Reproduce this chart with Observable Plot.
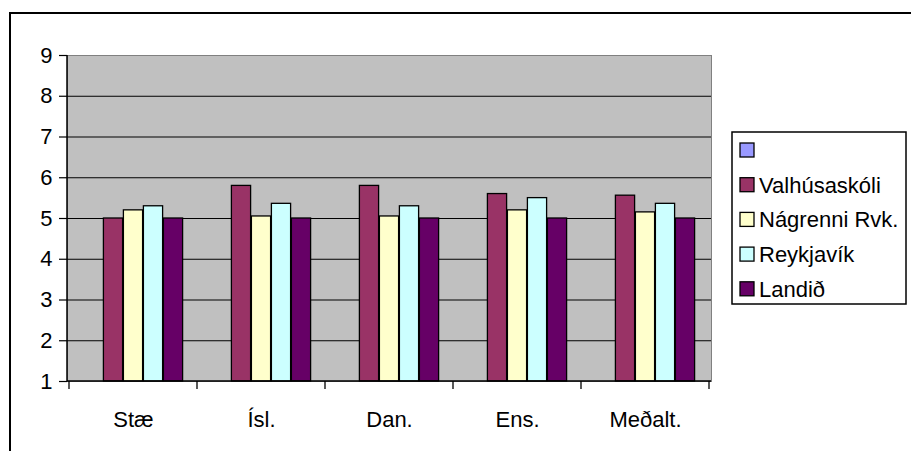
<!DOCTYPE html>
<html>
<head>
<meta charset="utf-8">
<script src="https://cdn.jsdelivr.net/npm/d3@7"></script>
<script src="https://cdn.jsdelivr.net/npm/@observablehq/plot@0.6"></script>
<style>
  html, body { margin: 0; padding: 0; background: #fff; }
  svg { display: block; }
</style>
</head>
<body>
<div id="chart"></div>
<script>
const categories = ["Stæ", "Ísl.", "Dan.", "Ens.", "Meðalt."];
const seriesNames = ["", "Valhúsaskóli", "Nágrenni Rvk.", "Reykjavík", "Landið"];
const seriesColors = ["#9999FF", "#993366", "#FFFFCC", "#CCFFFF", "#660066"];
const emptySeries = [null, null, null, null, null];
const valhusaskoli = [5.0, 5.8, 5.8, 5.6, 5.56];
const nagrenni = [5.2, 5.05, 5.05, 5.2, 5.15];
const reykjavik = [5.3, 5.36, 5.3, 5.5, 5.36];
const landid = [5.0, 5.0, 5.0, 5.0, 5.0];
const yTicks = [1, 2, 3, 4, 5, 6, 7, 8, 9];

const seriesValues = [emptySeries, valhusaskoli, nagrenni, reykjavik, landid];

const W = 911, H = 451;
const mL = 67, mR = 200, mT = 55, mB = 70;
const band = (W - mL - mR) / categories.length;
const slot = 20;
const groupOffset = (band - slot * seriesNames.length) / 2;
const FONT = "'Liberation Sans', Arial, sans-serif";

const barMarks = seriesNames.map((name, i) => {
  const rows = categories
    .map((c, j) => ({cat: c, value: seriesValues[i][j]}))
    .filter(d => d.value != null);
  return Plot.barY(rows, {
    x: "cat",
    y1: 1,
    y2: "value",
    fill: seriesColors[i],
    stroke: "#000",
    strokeWidth: 1.3,
    insetLeft: groupOffset + slot * i,
    insetRight: band - groupOffset - slot * (i + 1)
  });
});

const plot = Plot.plot({
  width: W,
  height: H,
  marginLeft: mL,
  marginRight: mR,
  marginTop: mT,
  marginBottom: mB,
  style: {fontFamily: FONT, background: "#fff", color: "#000"},
  x: {domain: categories, padding: 0, axis: null},
  y: {domain: [1, 9], axis: null},
  marks: [
    Plot.frame({fill: "#C0C0C0", stroke: "#808080"}),
    Plot.ruleY(yTicks.slice(1, -1), {stroke: "#000", strokeWidth: 1.2}),
    ...barMarks,
    Plot.axisY({ticks: yTicks, tickSize: 8, tickPadding: 7, fontSize: 22, label: null, tickFormat: d => String(d), stroke: "#000", strokeWidth: 1.2}),
    Plot.axisX({tickSize: 0, tickPadding: 30, fontSize: 22, label: null})
  ]
});

document.getElementById("chart").appendChild(plot);

const svg = d3.select(plot);
const xs = plot.scale("x");
const ys = plot.scale("y");
const x0 = mL, x1 = W - mR;
const yBase = ys.apply(1), yTop = ys.apply(9);

// axis lines
svg.append("line").attr("x1", x0).attr("x2", x0).attr("y1", yTop).attr("y2", yBase)
  .attr("stroke", "#000").attr("stroke-width", 1.5);
svg.append("line").attr("x1", x0).attr("x2", x1).attr("y1", yBase).attr("y2", yBase)
  .attr("stroke", "#000").attr("stroke-width", 1.5);
// category boundary ticks
const bounds = categories.map(c => xs.apply(c)).concat([xs.apply(categories[categories.length - 1]) + xs.bandwidth]);
bounds.forEach(b => {
  svg.append("line").attr("x1", b).attr("x2", b).attr("y1", yBase).attr("y2", yBase + 8)
    .attr("stroke", "#000").attr("stroke-width", 1.3);
});

// outer chart frame (cropped)
svg.append("path").attr("d", `M10,${H} V13 H${W}`).attr("fill", "none")
  .attr("stroke", "#000").attr("stroke-width", 2);

// legend
const lg = svg.append("g").attr("font-family", FONT).attr("font-size", 22).attr("text-anchor", "start");
lg.append("rect").attr("x", 732).attr("y", 132).attr("width", 174).attr("height", 172)
  .attr("fill", "#fff").attr("stroke", "#000").attr("stroke-width", 1.5);
seriesNames.forEach((name, i) => {
  const cy = 150 + i * 34.7;
  lg.append("rect").attr("x", 740).attr("y", cy - 7).attr("width", 14).attr("height", 14)
    .attr("fill", seriesColors[i]).attr("stroke", "#000").attr("stroke-width", 1.3);
  lg.append("text").attr("x", 759).attr("y", cy).attr("dy", "0.36em")
    .attr("text-anchor", "start").attr("fill", "#000").text(name);
});
</script>
</body>
</html>
